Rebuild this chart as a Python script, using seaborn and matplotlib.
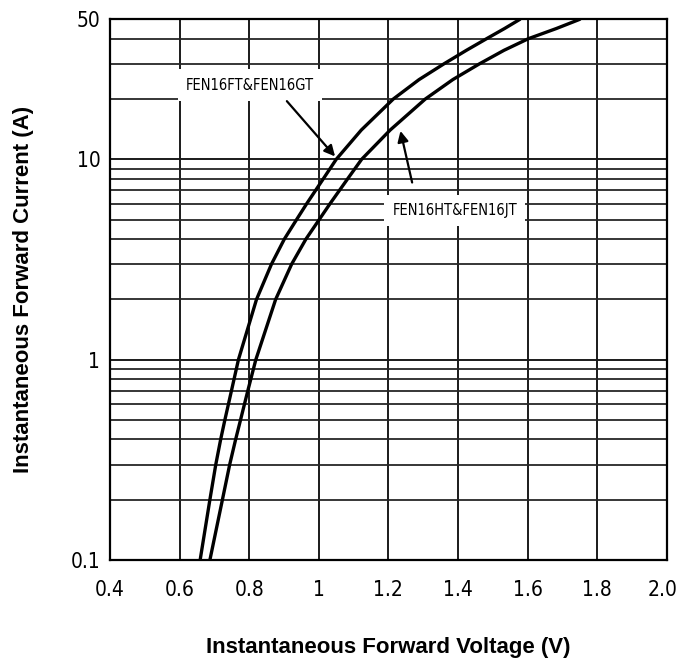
import numpy as np
import pandas as pd
import matplotlib
matplotlib.use('Agg')
import matplotlib.pyplot as plt
import matplotlib.ticker as mticker
import matplotlib.transforms as mtransforms
import seaborn as sns

# Dados (corrente em A, tensão em V)
corrente = [0.1, 0.2, 0.3, 0.4, 0.5, 0.7, 1, 2, 3, 4, 5, 6, 8, 10, 14, 20, 25, 30, 35, 40, 45, 50]
tensao_fg = [0.659, 0.687, 0.704, 0.718, 0.730, 0.749, 0.769, 0.821, 0.864, 0.901, 0.936,
             0.965, 1.013, 1.050, 1.122, 1.214, 1.288, 1.360, 1.424, 1.482, 1.534, 1.578]
tensao_hj = [0.687, 0.723, 0.744, 0.761, 0.775, 0.796, 0.819, 0.876, 0.922, 0.963, 1.001,
             1.032, 1.083, 1.123, 1.205, 1.306, 1.385, 1.462, 1.532, 1.602, 1.683, 1.750]

serie_fg = 'FEN16FT&FEN16GT'
serie_hj = 'FEN16HT&FEN16JT'

xticks = [0.4, 0.6, 0.8, 1.0, 1.2, 1.4, 1.6, 1.8, 2.0]
xtick_labels = ['0.4', '0.6', '0.8', '1', '1.2', '1.4', '1.6', '1.8', '2.0']
yticks = [0.1, 1, 10, 50]
ytick_labels = ['0.1', '1', '10', '50']

df = pd.DataFrame({
    'Tensao': tensao_fg + tensao_hj,
    'Corrente': corrente + corrente,
    'Serie': [serie_fg] * len(corrente) + [serie_hj] * len(corrente),
})

sns.set_style('white')
plt.rcParams['text.color'] = 'black'
plt.rcParams['axes.labelcolor'] = 'black'
plt.rcParams['xtick.color'] = 'black'
plt.rcParams['ytick.color'] = 'black'
narrow = ['Liberation Sans Narrow', 'DejaVu Sans']
bold_font = ['Liberation Sans', 'DejaVu Sans']

fig = plt.figure(figsize=(6.79, 6.66), dpi=100)
ax = fig.add_axes([0.162, 0.159, 0.820, 0.812])

sns.lineplot(data=df, x='Tensao', y='Corrente', units='Serie', estimator=None,
             sort=False, color='black', linewidth=2.4, ax=ax, zorder=5)

ax.set_yscale('log')
ax.set_xlim(0.4, 2.0)
ax.set_ylim(0.1, 50)

ax.set_xticks(xticks)
ax.set_xticklabels(xtick_labels, fontfamily=narrow, fontstretch='condensed', fontsize=15)
ax.set_yticks(yticks)
ax.set_yticklabels(ytick_labels, fontfamily=narrow, fontstretch='condensed', fontsize=15)
ax.yaxis.set_minor_locator(mticker.LogLocator(base=10, subs=np.arange(2, 10)))
ax.yaxis.set_minor_formatter(mticker.NullFormatter())
ax.tick_params(axis='x', which='both', length=0, pad=14)
ax.tick_params(axis='y', which='both', length=0, pad=7)

# o último rótulo (2.0) fica um pouco para dentro
last = ax.get_xticklabels()[-1]
last.set_transform(last.get_transform() + mtransforms.ScaledTranslation(-3 / 72, 0, fig.dpi_scale_trans))

ax.grid(True, which='major', axis='both', color='0.1', linewidth=1.4)
ax.grid(True, which='minor', axis='y', color='0.15', linewidth=1.3)
ax.set_axisbelow(True)

for s in ax.spines.values():
    s.set_color('black')
    s.set_linewidth(1.6)

ax.set_xlabel('Instantaneous Forward Voltage (V)', fontfamily=bold_font,
              fontsize=16, fontweight='bold', labelpad=27)
ax.set_ylabel('Instantaneous Forward Current (A)', fontfamily=bold_font,
              fontsize=16, fontweight='bold', labelpad=26)

# Rótulos das curvas com setas
ax.text(0.802, 23.5, serie_fg, fontfamily=narrow, fontstretch='condensed', fontsize=10.5,
        ha='center', va='center',
        bbox=dict(boxstyle='square,pad=0.55', facecolor='white', edgecolor='none'), zorder=6)
ax.annotate('', xy=(1.052, 10.1), xytext=(0.903, 20.0),
            arrowprops=dict(arrowstyle='-|>', color='black', lw=1.6, mutation_scale=16), zorder=7)

ax.text(1.391, 5.57, serie_hj, fontfamily=narrow, fontstretch='condensed', fontsize=10.5,
        ha='center', va='center',
        bbox=dict(boxstyle='square,pad=0.55', facecolor='white', edgecolor='none'), zorder=6)
ax.annotate('', xy=(1.233, 14.3), xytext=(1.270, 7.43),
            arrowprops=dict(arrowstyle='-|>', color='black', lw=1.6, mutation_scale=16), zorder=7)

if ax.get_legend() is not None:
    ax.get_legend().remove()

plt.savefig('out.png', dpi=100)
